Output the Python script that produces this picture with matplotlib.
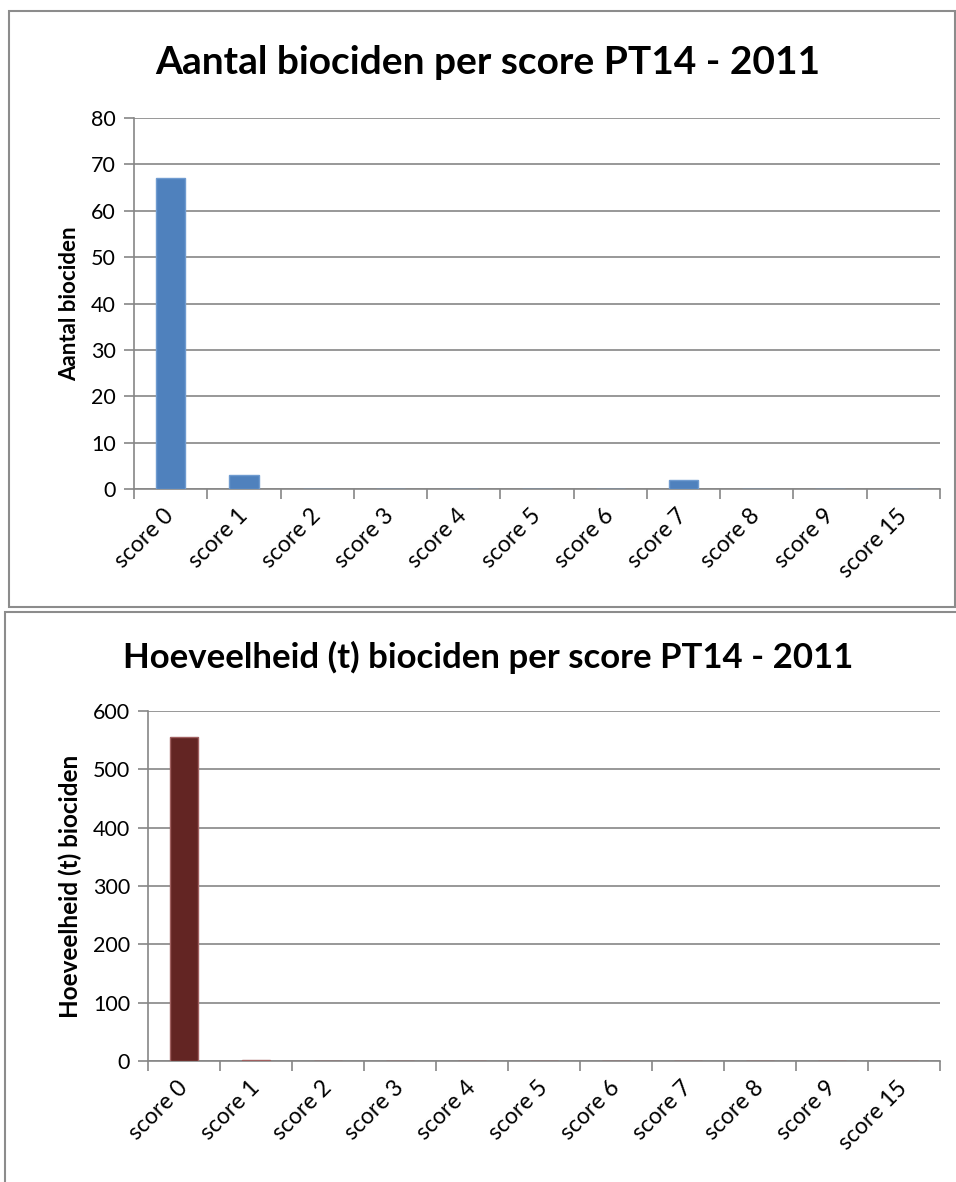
import matplotlib.pyplot as plt
from matplotlib.patches import Rectangle
from matplotlib.transforms import ScaledTranslation

# data
categories = ["score 0", "score 1", "score 2", "score 3", "score 4", "score 5",
              "score 6", "score 7", "score 8", "score 9", "score 15"]
aantal = [67, 3, 0, 0, 0, 0, 0, 2, 0, 0, 0]
hoeveelheid = [555, 2, 0, 0, 0, 0, 0, 0, 0, 0, 0]

W, H = 956, 1182
plt.rcParams['font.family'] = ['Lato', 'DejaVu Sans']

fig = plt.figure(figsize=(W / 100, H / 100), dpi=100)


def px(x0, y0, x1, y1):
    # pixel box (top-left origin) -> figure fraction
    return [x0 / W, 1 - y1 / H, (x1 - x0) / W, (y1 - y0) / H]


def frame(x0, y0, x1, y1):
    b = px(x0, y0, x1, y1)
    fig.patches.append(Rectangle((b[0], b[1]), b[2], b[3], transform=fig.transFigure,
                                 fill=False, edgecolor='#8c8c8c', linewidth=1.5))


def bar_chart(box, values, ymax, step, color, edge, title, ylabel, title_y, title_size,
              ylabel_size):
    ax = fig.add_axes(px(*box))
    x = range(len(categories))
    ax.bar(x, values, width=0.4, color=color, edgecolor=edge, linewidth=1, zorder=3)
    ax.set_xlim(-0.5, len(categories) - 0.5)
    ax.set_ylim(0, ymax)
    ax.set_yticks(range(0, ymax + 1, step))
    ax.yaxis.grid(True, color='#868686', linewidth=1.2)
    ax.set_axisbelow(True)
    for s in ['top', 'right']:
        ax.spines[s].set_visible(False)
    for s in ['left', 'bottom']:
        ax.spines[s].set_color('#868686')
        ax.spines[s].set_linewidth(1.2)
    ax.set_xticks([i - 0.5 for i in range(len(categories) + 1)])
    ax.set_xticklabels([])
    ax.set_xticks(list(x), minor=True)
    ax.set_xticklabels(categories, minor=True, rotation=45, ha='right', va='center',
                       rotation_mode='anchor', fontsize=16.5)
    shift = ScaledTranslation(6 / 100, 0, fig.dpi_scale_trans)
    for lab in ax.get_xticklabels(minor=True):
        lab.set_transform(lab.get_transform() + shift)
    ax.tick_params(axis='x', which='minor', length=0, pad=17)
    ax.tick_params(axis='x', which='major', length=7, width=1.2, color='#868686')
    ax.tick_params(axis='y', length=7, width=1.2, color='#868686', labelsize=15.5, pad=6)
    ax.set_ylabel(ylabel, fontsize=ylabel_size, fontweight='bold', labelpad=8)
    fig.text(488 / W, 1 - title_y / H, title,
             ha='center', va='center', fontsize=title_size, fontweight='bold')
    return ax


frame(9, 11, 955, 607)
frame(5, 612, 962, 1190)

bar_chart((134, 118, 940, 489), aantal, 80, 10, '#4F81BD', '#6f9bd0',
          "Aantal biociden per score PT14 - 2011", "Aantal biociden", 62, 28, 16)
bar_chart((148, 711, 940, 1061), hoeveelheid, 600, 100, '#632523', '#a06060',
          "Hoeveelheid (t) biociden per score PT14 - 2011", "Hoeveelheid (t) biociden",
          657, 25, 17.5)

fig.savefig("out.png", dpi=100)
